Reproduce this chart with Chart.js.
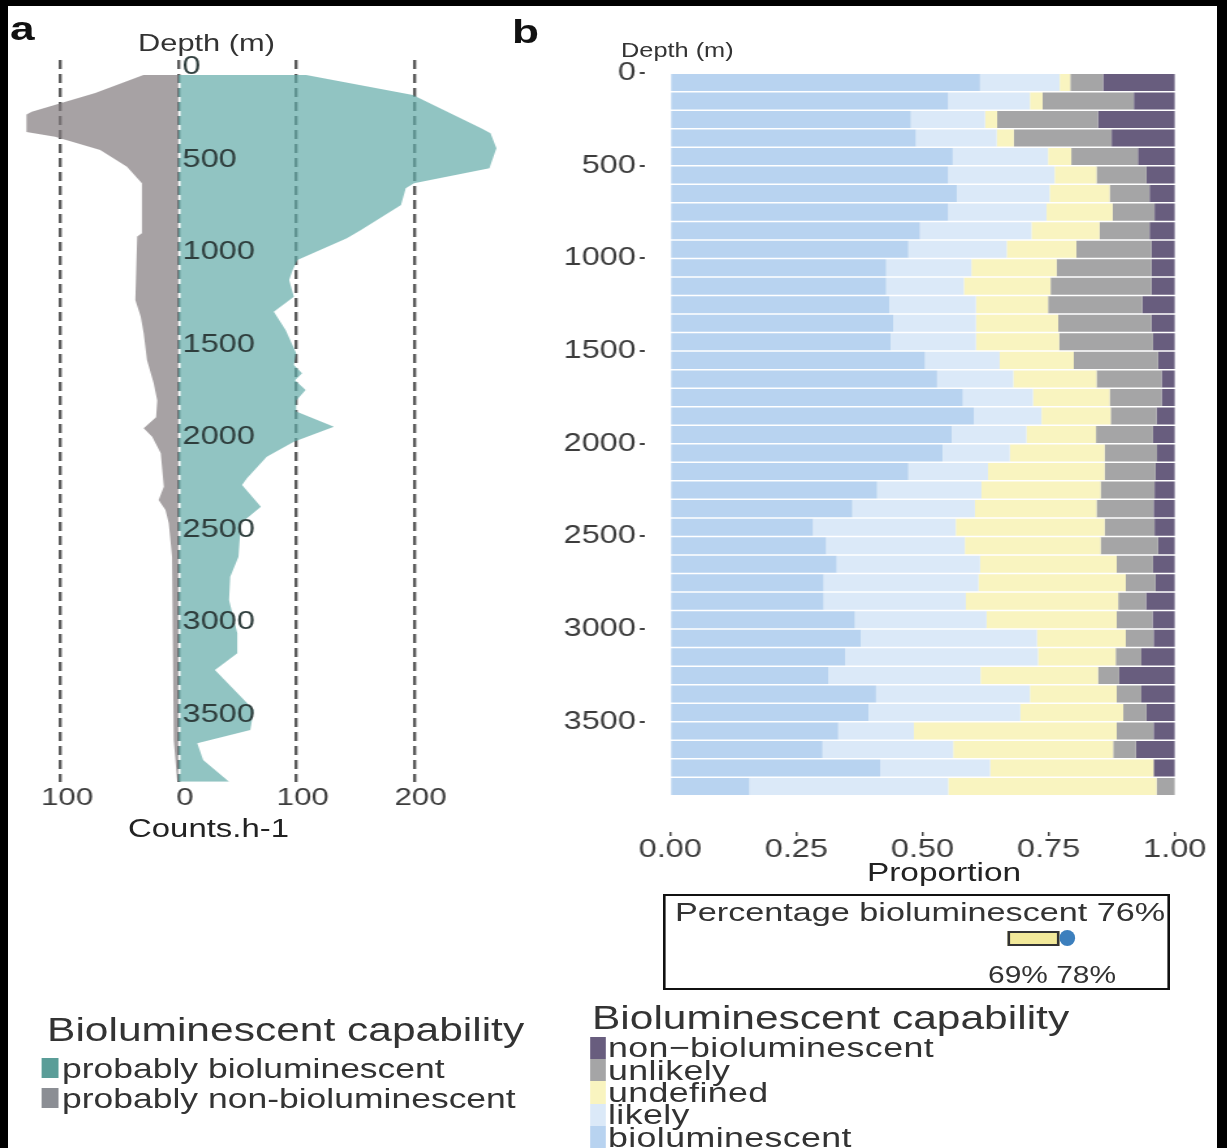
<!DOCTYPE html>
<html>
<head>
<meta charset="utf-8">
<script src="https://cdn.jsdelivr.net/npm/chart.js@4.4.1/dist/chart.umd.min.js"></script>
<style>
  html, body { margin: 0; padding: 0; background: #000; }
  body { width: 1227px; height: 1148px; overflow: hidden; position: relative;
         font-family: "Liberation Sans", Arial, sans-serif; color: #222; }
  #paper { position: absolute; left: 8px; top: 6px; width: 1209px; height: 1142px; background: #fff; }
  /* la figura original está estirada en horizontal: se dibuja a 1/1.3 y se estira */
  #stage { position: absolute; left: 0; top: 0; width: 944px; height: 1148px;
           transform: scaleX(1.3); transform-origin: 0 0; }
  .t { position: absolute; white-space: nowrap; }
  .sw { position: absolute; }
</style>
</head>
<body>
<div id="paper"></div>
<div id="stage">
  <div style="position:absolute;left:0;top:0;width:430.8px;height:900px;"><canvas id="counts"></canvas></div>
  <div style="position:absolute;left:400px;top:0;width:536.15px;height:900px;"><canvas id="proportion"></canvas></div>

  <div class="t" style="left:7.7px;top:11px;font-size:34px;line-height:34px;font-weight:bold;color:#111;">a</div>
  <div class="t" style="left:393.8px;top:14px;font-size:34px;line-height:34px;font-weight:bold;color:#111;">b</div>

  <div class="t" style="left:106.2px;top:32px;font-size:23.7px;line-height:23.7px;color:#333;">Depth (m)</div>
  <div class="t" style="left:477.7px;top:41px;font-size:19.5px;line-height:19.5px;color:#333;">Depth (m)</div>
  <div class="t" style="left:98.5px;top:815.5px;font-size:25.3px;line-height:25.3px;color:#222;">Counts.h-1</div>
  <div class="t" style="left:666.9px;top:860px;font-size:25.7px;line-height:25.7px;color:#222;">Proportion</div>

  <!-- recuadro del porcentaje -->
  <div style="position:absolute;left:510px;top:894px;width:390px;height:96px;box-sizing:border-box;border:2px solid #111;"></div>
  <div class="t" style="left:519.2px;top:899px;font-size:26.3px;line-height:26.3px;color:#333;">Percentage bioluminescent 76%</div>
  <div style="position:absolute;left:774.6px;top:931px;width:40.8px;height:15px;box-sizing:border-box;border:2px solid #333;background:#f2e99a;"></div>
  <div style="position:absolute;left:814.6px;top:930px;width:12.3px;height:16px;border-radius:50%;background:#3c7fbd;"></div>
  <div class="t" style="left:760px;top:963.5px;font-size:23px;line-height:23px;color:#333;">69% 78%</div>

  <!-- leyenda a -->
  <div class="t" style="left:36.2px;top:1013.6px;font-size:32.7px;line-height:32.7px;color:#333;">Bioluminescent capability</div>
  <div class="sw" style="left:32.3px;top:1058px;width:12.3px;height:20px;background:#5a9d98;"></div>
  <div class="t" style="left:47.7px;top:1054.5px;font-size:27.3px;line-height:27.3px;color:#333;">probably bioluminescent</div>
  <div class="sw" style="left:32.3px;top:1088px;width:12.3px;height:20px;background:#8b8e94;"></div>
  <div class="t" style="left:47.7px;top:1084.5px;font-size:27.3px;line-height:27.3px;color:#333;">probably non-bioluminescent</div>

  <!-- leyenda b -->
  <div class="t" style="left:455.4px;top:1001.6px;font-size:32.7px;line-height:32.7px;color:#333;">Bioluminescent capability</div>
  <div id="legendB"></div>
</div>

<script>
// Panel a: perfil de conteos (vértices)
const countTicks = [-100, 0, 100, 200];
const depthTicks = [0, 500, 1000, 1500, 2000, 2500, 3000, 3500];

const bioDepths = [40, 149, 329, 356, 437, 545, 626, 653, 743, 878,
  923, 1040, 1095, 1149, 1239, 1320, 1419, 1545, 1608, 1653,
  1690, 1743, 1800, 1860, 1942, 2023, 2104, 2221, 2257, 2374,
  2464, 2644, 2752, 2878, 3058, 3166, 3257, 3473, 3581, 3653,
  3743, 3861];
const bioCounts = [108, 199, 257, 265, 270, 264, 200, 193, 189, 155,
  143, 101, 97, 94, 98, 81, 91, 100, 98, 105,
  99, 108, 100, 100, 132, 98, 75, 58, 54, 70,
  53, 51, 44, 43, 50, 50, 31, 64, 61, 16,
  21, 43];

const nonBioDepths = [40, 138, 239, 254, 348, 374, 446, 536, 626, 896,
  914, 1257, 1347, 1437, 1581, 1707, 1800, 1890, 1950, 1996,
  2085, 2266, 2338, 2392, 2464, 2644, 3635, 3861];
const nonBioCounts = [29.5, 70.6, 124.5, 129, 129, 104.7, 66.4, 43.7, 31, 31,
  35, 36.6, 32, 29.5, 26.7, 21, 18, 19, 29.5, 22.3,
  15, 12.4, 16.8, 11, 8.2, 5.4, 4, 1];

// Panel b: proporciones por tramo de 100 m
const propTicks = [0, 0.25, 0.5, 0.75, 1];
const binDepths = [50, 150, 250, 350, 450, 550, 650, 750, 850, 950,
  1050, 1150, 1250, 1350, 1450, 1550, 1650, 1750, 1850, 1950,
  2050, 2150, 2250, 2350, 2450, 2550, 2650, 2750, 2850, 2950,
  3050, 3150, 3250, 3350, 3450, 3550, 3650, 3750, 3850];
const bioluminescent = [.614, .551, .477, .487, .560, .551, .568, .551, .495, .472,
  .428, .428, .434, .442, .437, .505, .529, .580, .602, .558,
  .540, .472, .410, .361, .283, .309, .330, .304, .304, .366,
  .378, .347, .313, .408, .393, .333, .302, .416, .157];
const likely = [.158, .162, .147, .160, .189, .211, .184, .195, .221, .195,
  .169, .154, .172, .164, .169, .148, .151, .139, .134, .148,
  .133, .158, .207, .243, .283, .275, .284, .307, .282, .261,
  .349, .382, .302, .305, .301, .150, .259, .218, .394];
const undefinedCap = [.021, .025, .024, .034, .046, .083, .119, .131, .135, .138,
  .169, .172, .143, .163, .165, .147, .165, .152, .137, .138,
  .188, .231, .236, .241, .295, .269, .271, .292, .302, .258,
  .176, .154, .233, .172, .204, .402, .317, .324, .413];
const unlikely = [.065, .181, .200, .194, .132, .099, .079, .083, .099, .149,
  .188, .200, .187, .185, .186, .167, .129, .103, .091, .113,
  .104, .101, .107, .113, .099, .114, .072, .059, .055, .071,
  .055, .051, .042, .049, .046, .073, .045, .000, .036];
const nonBioluminescent = [.142, .081, .152, .125, .073, .056, .050, .040, .050, .046,
  .046, .046, .064, .046, .043, .033, .026, .026, .036, .043,
  .035, .038, .040, .042, .040, .033, .043, .038, .057, .044,
  .042, .066, .110, .066, .056, .042, .077, .042, .000];

const capLabels = ['bioluminescent', 'likely', 'undefined', 'unlikely', 'non\u2212bioluminescent'];
const capColors = ['#b8d3f0', '#dbe9f8', '#f9f4c0', '#a5a5a6', '#685d7e'];

Chart.defaults.font.family = '"Liberation Sans", Arial, sans-serif';
Chart.defaults.animation = false;

// línea blanca discontinua sobre el cero
const zeroLine = {
  id: 'zeroLine',
  afterDatasetsDraw(chart) {
    const { ctx, chartArea, scales } = chart;
    const x = scales.x.getPixelForValue(0);
    ctx.save();
    ctx.strokeStyle = '#fff';
    ctx.lineWidth = 1.6;
    ctx.setLineDash([5, 9]);
    ctx.lineDashOffset = 5;
    ctx.beginPath();
    ctx.moveTo(x + 0.8, chartArea.top);
    ctx.lineTo(x + 0.8, chartArea.bottom);
    ctx.stroke();
    ctx.restore();
  }
};

new Chart(document.getElementById('counts'), {
  type: 'line',
  data: {
    datasets: [
      {
        label: 'probably bioluminescent',
        data: bioDepths.map((d, i) => ({ x: bioCounts[i], y: d })),
        backgroundColor: 'rgba(99,171,168,0.7)',
        borderColor: 'transparent', borderWidth: 0, pointRadius: 0, tension: 0,
        fill: 'origin'
      },
      {
        label: 'probably non-bioluminescent',
        data: nonBioDepths.map((d, i) => ({ x: -nonBioCounts[i], y: d })),
        backgroundColor: 'rgba(130,123,125,0.7)',
        borderColor: 'transparent', borderWidth: 0, pointRadius: 0, tension: 0,
        fill: 'origin'
      }
    ]
  },
  options: {
    indexAxis: 'y',
    responsive: true,
    maintainAspectRatio: false,
    layout: { padding: { left: 17.6, right: 46.2, top: 60, bottom: 88 } },
    plugins: { legend: { display: false }, tooltip: { enabled: false } },
    scales: {
      x: {
        type: 'linear', min: -132, max: 274,
        afterBuildTicks: s => { s.ticks = countTicks.map(v => ({ value: v })); },
        afterFit: s => { s.height = 30; },
        grid: { color: '#5c5c5c', lineWidth: 2.4, drawTicks: false },
        border: { display: false, dash: [9, 5] },
        ticks: {
          callback: v => String(Math.abs(v)),
          font: { size: 24, lineHeight: 1 }, color: '#3c3c3c',
          padding: 4, labelOffset: 5, maxRotation: 0
        }
      },
      y: {
        type: 'linear', reverse: true, min: -40.5, max: 3862, position: 'left', offset: false,
        afterBuildTicks: s => { s.ticks = depthTicks.map(v => ({ value: v })); },
        // etiquetas dentro del panel, junto al cero, sin reservar espacio
        afterFit: s => { s.width = 0; s.paddingTop = 0; s.paddingBottom = 0; },
        grid: { display: false },
        border: { display: false },
        ticks: {
          mirror: true, padding: 122.4, z: 1, font: { size: 25 }, color: '#2e3d3c',
          callback: v => String(v)
        }
      }
    }
  },
  plugins: [zeroLine]
});

const capSeries = [bioluminescent, likely, undefinedCap, unlikely, nonBioluminescent];

new Chart(document.getElementById('proportion'), {
  type: 'bar',
  data: {
    labels: binDepths,
    datasets: capSeries.map((values, k) => ({
      label: capLabels[k],
      data: values,
      backgroundColor: capColors[k],
      borderWidth: 0,
      barPercentage: 0.92,
      categoryPercentage: 1
    }))
  },
  options: {
    indexAxis: 'y',
    responsive: true,
    maintainAspectRatio: false,
    layout: { padding: { left: 16.15, right: 13.08, top: 37, bottom: 28 } },
    plugins: { legend: { display: false }, tooltip: { enabled: false } },
    scales: {
      x: {
        type: 'linear', stacked: true, min: -0.05, max: 1.05, offset: false,
        afterBuildTicks: s => { s.ticks = propTicks.map(v => ({ value: v })); },
        afterFit: s => { s.height = 40; },
        grid: { drawOnChartArea: false, drawTicks: true, tickLength: 4, color: '#444', lineWidth: 1.5, offset: false },
        border: { display: false },
        ticks: {
          callback: v => v.toFixed(2),
          font: { size: 25, lineHeight: 1 }, color: '#3c3c3c', padding: 2, maxRotation: 0
        }
      },
      y: {
        type: 'linear', stacked: true, reverse: true, min: -195, max: 4095, offset: false,
        afterBuildTicks: s => { s.ticks = depthTicks.map(v => ({ value: v })); },
        afterFit: s => { s.width = 80; s.paddingTop = 0; s.paddingBottom = 0; },
        grid: { drawOnChartArea: false, drawTicks: true, tickLength: 4, color: '#444', lineWidth: 2, offset: false },
        border: { display: false },
        ticks: { font: { size: 25 }, color: '#3c3c3c', padding: 3, callback: v => String(v) }
      }
    }
  }
});

// leyenda del panel b (de arriba abajo, orden inverso al apilado)
const legendB = document.getElementById('legendB');
[4, 3, 2, 1, 0].forEach((k, row) => {
  const top = 1048 + row * 22.3 - 11.15;
  legendB.insertAdjacentHTML('beforeend',
    `<div class="sw" style="left:453.8px;top:${top}px;width:12.3px;height:22.3px;background:${capColors[k]};"></div>` +
    `<div class="t" style="left:467.7px;top:${top - 1.5}px;font-size:27.5px;line-height:25px;letter-spacing:0.3px;color:#333;">${capLabels[k]}</div>`);
});
</script>
</body>
</html>
